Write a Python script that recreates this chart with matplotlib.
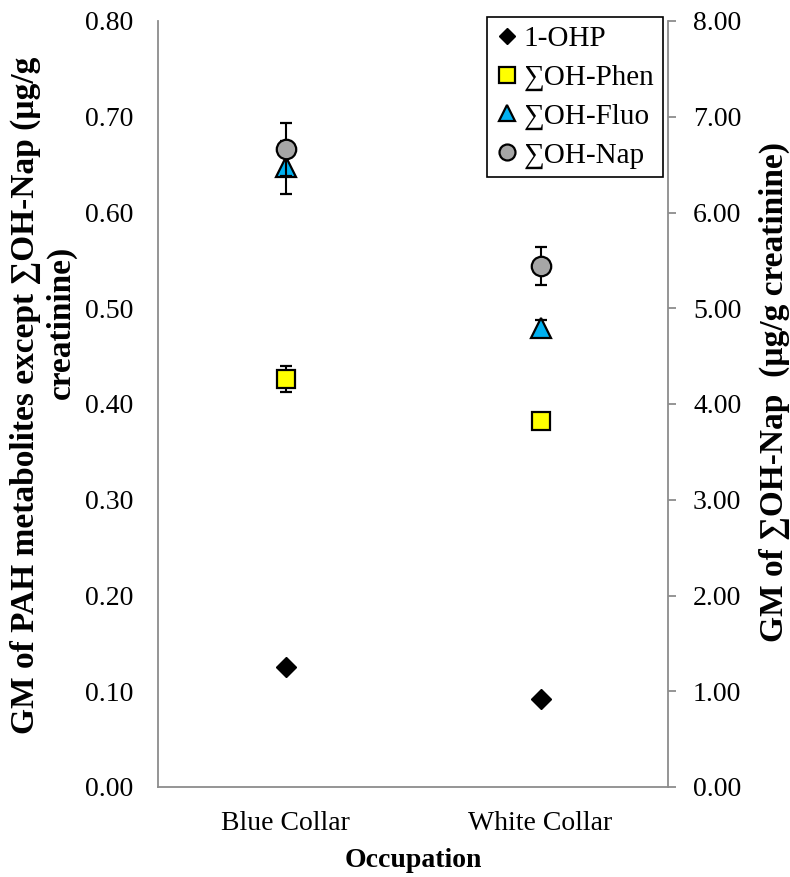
import matplotlib
matplotlib.use("Agg")
import matplotlib.pyplot as plt
from matplotlib.lines import Line2D
import numpy as np

plt.rcParams['font.family'] = ['Liberation Serif', 'DejaVu Serif']

# Geometric means by occupation group
categories = ['Blue Collar', 'White Collar']
ohp = [0.125, 0.092]
phen = [0.426, 0.382]
phen_err = [0.0135, 0.006]
fluo = [0.647, 0.479]
fluo_err = [0.028, 0.009]
nap = [6.66, 5.44]          # secondary axis
nap_err = [0.278, 0.198]

left_ticks = [0.0, 0.1, 0.2, 0.3, 0.4, 0.5, 0.6, 0.7, 0.8]
right_ticks = [0, 1, 2, 3, 4, 5, 6, 7, 8]

FS = 20
TITLE_FS = 24
GREY = '#8c8c8c'

styles = {
    '1-OHP': dict(marker='D', mfc='black', mec='black', mew=1.0),
    '∑OH-Phen': dict(marker='s', mfc='#FFFF00', mec='black', mew=1.6),
    '∑OH-Fluo': dict(marker='^', mfc='#00B0F0', mec='black', mew=1.6),
    '∑OH-Nap': dict(marker='o', mfc='#A6A6A6', mec='black', mew=1.6),
}
err_kw = dict(ecolor='black', elinewidth=1.5, capsize=4.3, capthick=1.5)

fig = plt.figure(figsize=(7.9, 8.77), dpi=100)
ax = fig.add_axes([158 / 790, 1 - 787 / 877, 510 / 790, 766 / 877])
ax2 = ax.twinx()

x = np.arange(1, len(categories) + 1)

ax.plot(x, ohp, linestyle='none', ms=10, zorder=3, **styles['1-OHP'])
ax.errorbar(x, phen, yerr=phen_err, linestyle='none', ms=13.5, zorder=3,
            **styles['∑OH-Phen'], **err_kw)
ax.errorbar(x, fluo, yerr=fluo_err, linestyle='none', ms=14, zorder=3,
            **styles['∑OH-Fluo'], **err_kw)
ax2.errorbar(x, nap, yerr=nap_err, linestyle='none', ms=14, zorder=3,
             **styles['∑OH-Nap'], **err_kw)

ax.set_xlim(0.5, 2.5)
ax.set_ylim(0, 0.8)
ax2.set_ylim(0, 8)

ax.set_yticks(left_ticks)
ax.set_yticklabels([f'{v:.2f}' for v in left_ticks], fontsize=FS)
ax2.set_yticks(right_ticks)
ax2.set_yticklabels([f'{v:.2f}' for v in right_ticks], fontsize=FS)
ax.set_xticks(x)
ax.set_xticklabels(categories, fontsize=FS)

ax.tick_params(axis='y', length=0, pad=18)
ax.tick_params(axis='x', length=0, pad=17)
ax2.tick_params(axis='y', length=6, width=1.3, color=GREY, direction='out', pad=12)

for a in (ax, ax2):
    a.spines['top'].set_visible(False)
    for s in ('left', 'right', 'bottom'):
        a.spines[s].set_color(GREY)
        a.spines[s].set_linewidth(1.3)
ax.spines['right'].set_visible(False)
ax2.spines['left'].set_visible(False)
ax2.spines['bottom'].set_visible(False)

ax.set_xlabel('Occupation', fontsize=FS, fontweight='bold', labelpad=9)

# Left axis title, two lines
fig.text(25 / 790, 1 - 395 / 877, 'GM of PAH metabolites except ∑OH-Nap (µg/g',
         rotation=90, ha='center', va='center', fontsize=TITLE_FS, fontweight='bold')
fig.text(61 / 790, 1 - 322 / 877, 'creatinine)',
         rotation=90, ha='center', va='center', fontsize=TITLE_FS, fontweight='bold')
# Right axis title
fig.text(774 / 790, 1 - 392 / 877, 'GM of ∑OH-Nap  (µg/g creatinine)',
         rotation=90, ha='center', va='center', fontsize=TITLE_FS, fontweight='bold')

handle_ms = {'1-OHP': 8.5, '∑OH-Phen': 11, '∑OH-Fluo': 11, '∑OH-Nap': 11.5}
handles = [Line2D([], [], linestyle='none', ms=handle_ms[k], **v)
           for k, v in styles.items()]
leg = ax2.legend(handles, list(styles.keys()), loc='upper right',
                 bbox_to_anchor=(663 / 790, 1 - 17 / 877),
                 bbox_transform=fig.transFigure, fontsize=21, frameon=True,
                 fancybox=False, edgecolor='black', framealpha=1,
                 handlelength=0.8, handletextpad=0.15, labelspacing=0.42,
                 borderpad=0.3, borderaxespad=0)
leg.get_frame().set_linewidth(1.2)

fig.savefig('out.png', dpi=100)
